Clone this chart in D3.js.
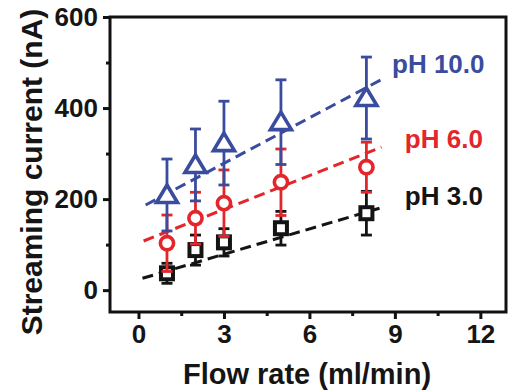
<!DOCTYPE html>
<html>
<head>
<meta charset="utf-8">
<script src="https://cdn.jsdelivr.net/npm/d3@7"></script>
<style>
  html, body { margin: 0; padding: 0; background: #fff; }
  svg { display: block; }
  text { font-family: "Liberation Sans", Arial, sans-serif; font-weight: bold; }
</style>
</head>
<body>
<svg id="chart" width="511" height="391"></svg>
<script>
// ---- data ----
const flowRates = [1, 2, 3, 5, 8];
const seriesNames = ["pH 3.0", "pH 6.0", "pH 10.0"];
const ph3Values = [37, 88, 105, 136, 169];
const ph3Errors = [22, 33, 30, 37, 48];
const ph6Values = [103, 158, 191, 237, 270];
const ph6Errors = [62, 57, 73, 73, 55];
const ph10Values = [209, 275, 323, 369, 422];
const ph10Errors = [79, 79, 92, 93, 90];
// fitted line endpoints [flow, current]
const ph3Fit = [[0.14, 26], [8.46, 180]];
const ph6Fit = [[0.18, 108], [8.53, 314]];
const ph10Fit = [[0.25, 187], [8.57, 464]];
// label anchor [flow, current]
const labelAnchors = [[9.35, 187], [9.35, 312], [8.9, 477]];
const xTicks = [0, 3, 6, 9, 12];
const xMinorTicks = [1.5, 4.5, 7.5, 10.5];
const yTicks = [0, 200, 400, 600];
const yMinorTicks = [100, 300, 500];
const xTitle = "Flow rate (ml/min)";
const yTitle = "Streaming current (nA)";

const colors = ["#141414", "#e3262b", "#3a4c9e"];
const shapes = ["square", "circle", "triangle"];

const series = seriesNames.map((name, i) => ({
  name,
  values: [ph3Values, ph6Values, ph10Values][i],
  errors: [ph3Errors, ph6Errors, ph10Errors][i],
  fit: [ph3Fit, ph6Fit, ph10Fit][i],
  label: labelAnchors[i],
  color: colors[i],
  shape: shapes[i]
}));

// ---- layout ----
const svg = d3.select("#chart");
const pL = 110, pR = 506, pT = 17, pB = 312;
const x = d3.scaleLinear().domain([-1, 12.9]).range([pL, pR]);
const y = d3.scaleLinear().domain([-48, 600]).range([pB, pT]);

// frame
svg.append("rect")
  .attr("x", pL).attr("y", pT)
  .attr("width", pR - pL).attr("height", pB - pT)
  .attr("fill", "none").attr("stroke", "#111").attr("stroke-width", 3);

// axes
const xAxis = svg.append("g").attr("transform", `translate(0,${pB})`)
  .call(d3.axisBottom(x).tickValues(xTicks).tickSize(7).tickPadding(6).tickFormat(d3.format("d")));
const xMinor = svg.append("g").attr("transform", `translate(0,${pB})`)
  .call(d3.axisBottom(x).tickValues(xMinorTicks).tickSize(4).tickFormat(""));
const yAxis = svg.append("g").attr("transform", `translate(${pL},0)`)
  .call(d3.axisLeft(y).tickValues(yTicks).tickSize(7).tickPadding(5).tickFormat(d3.format("d")));
const yMinor = svg.append("g").attr("transform", `translate(${pL},0)`)
  .call(d3.axisLeft(y).tickValues(yMinorTicks).tickSize(4).tickFormat(""));

[xAxis, xMinor, yAxis, yMinor].forEach(g => {
  g.select(".domain").remove();
  g.selectAll(".tick line").attr("stroke", "#111").attr("stroke-width", 3);
  g.selectAll(".tick text").attr("fill", "#151515").style("font-size", "26px");
});

// titles
svg.append("text")
  .attr("x", (pL + pR) / 2 - 1).attr("y", 384)
  .attr("text-anchor", "middle").attr("fill", "#151515")
  .style("font-size", "29px").text(xTitle);
svg.append("text")
  .attr("transform", `translate(42,${172}) rotate(-90)`)
  .attr("text-anchor", "middle").attr("fill", "#151515")
  .style("font-size", "30px").text(yTitle);

// series
const line = d3.line().x(d => x(d[0])).y(d => y(d[1]));
series.forEach(s => {
  const g = svg.append("g");
  // fit line
  g.append("path").attr("d", line(s.fit))
    .attr("fill", "none").attr("stroke", s.color)
    .attr("stroke-width", 3).attr("stroke-dasharray", "11,6");
  // error bars
  const pts = flowRates.map((f, i) => ({ f, v: s.values[i], e: s.errors[i] }));
  const eb = g.selectAll(".eb").data(pts).enter().append("g");
  eb.append("line")
    .attr("x1", d => x(d.f)).attr("x2", d => x(d.f))
    .attr("y1", d => y(d.v - d.e)).attr("y2", d => y(d.v + d.e))
    .attr("stroke", s.color).attr("stroke-width", 2.8);
  [-1, 1].forEach(sign => {
    eb.append("line")
      .attr("x1", d => x(d.f) - 5.5).attr("x2", d => x(d.f) + 5.5)
      .attr("y1", d => y(d.v + sign * d.e)).attr("y2", d => y(d.v + sign * d.e))
      .attr("stroke", s.color).attr("stroke-width", 2.8);
  });
  // markers
  const m = g.selectAll(".m").data(pts).enter();
  if (s.shape === "circle") {
    m.append("circle").attr("cx", d => x(d.f)).attr("cy", d => y(d.v)).attr("r", 6.6)
      .attr("fill", "#fff").attr("stroke", s.color).attr("stroke-width", 3.6);
  } else if (s.shape === "square") {
    m.append("rect").attr("x", d => x(d.f) - 6).attr("y", d => y(d.v) - 6)
      .attr("width", 12).attr("height", 12)
      .attr("fill", "#fff").attr("stroke", s.color).attr("stroke-width", 4);
  } else {
    m.append("path")
      .attr("transform", d => `translate(${x(d.f)},${y(d.v)})`)
      .attr("d", "M0,-10 L10.5,7.5 L-10.5,7.5 Z")
      .attr("fill", "#fff").attr("stroke", s.color).attr("stroke-width", 3.6)
      .attr("stroke-linejoin", "miter");
  }
  // label
  svg.append("text")
    .attr("x", x(s.label[0])).attr("y", y(s.label[1]))
    .attr("fill", s.color).style("font-size", "26px").text(s.name);
});
</script>
</body>
</html>
